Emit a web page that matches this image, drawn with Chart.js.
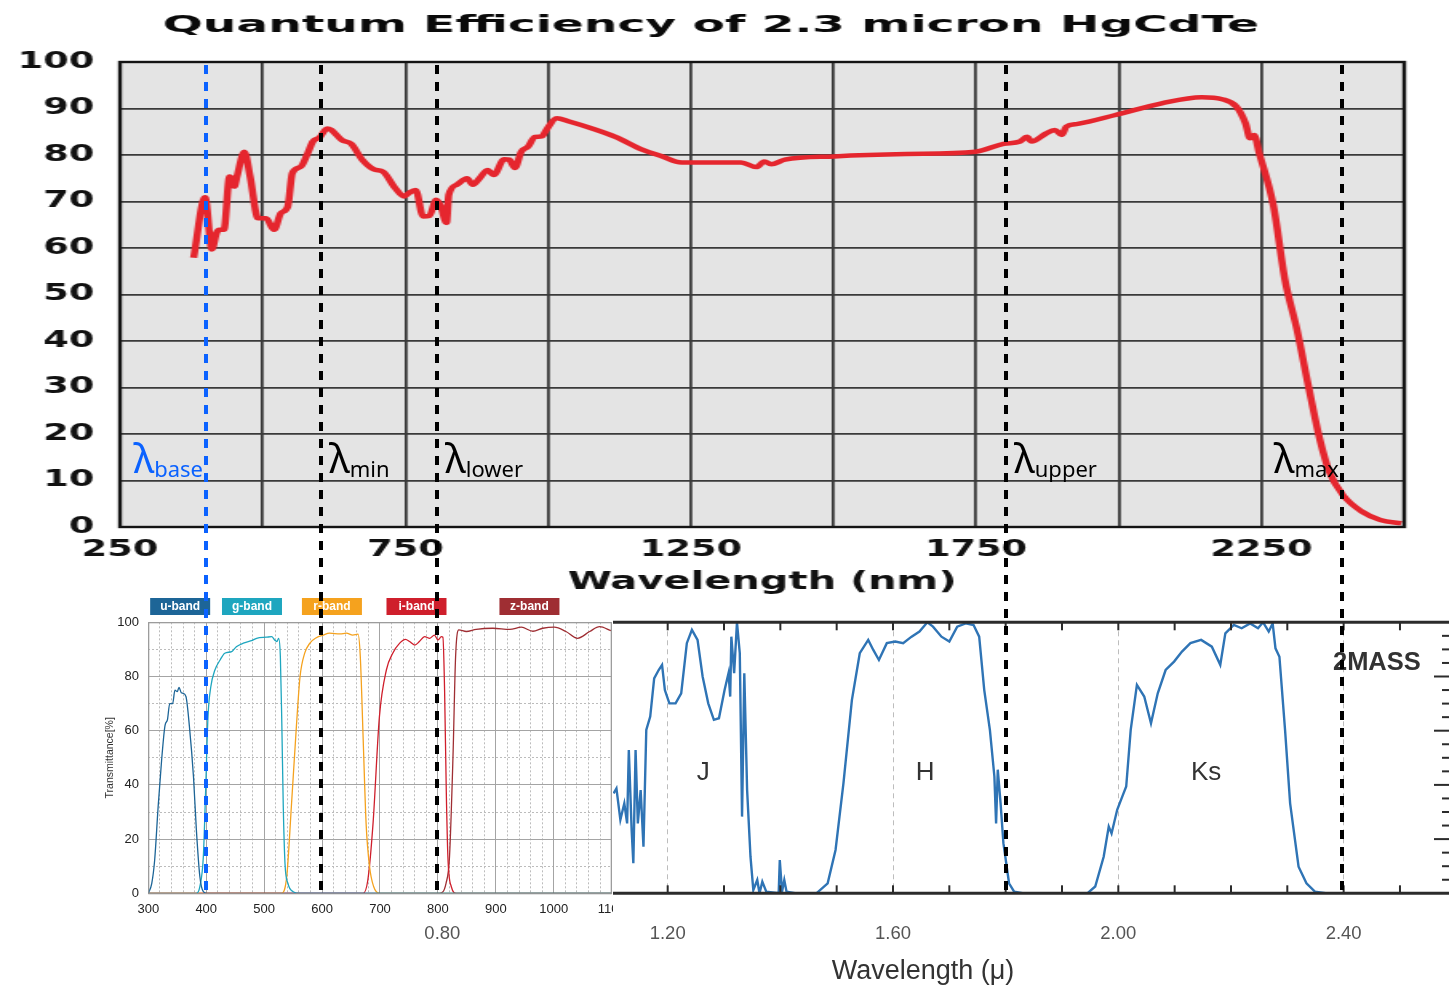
<!DOCTYPE html>
<html>
<head>
<meta charset="utf-8">
<script src="https://cdn.jsdelivr.net/npm/chart.js"></script>
<style>
  html, body { margin: 0; padding: 0; background: #fff; }
  #page { position: relative; width: 1449px; height: 988px; overflow: hidden; }
  #page canvas { position: absolute; }
  #qe { left: 0; top: 0; z-index: 3; }
  #sdss { left: 95px; top: 592px; z-index: 2; background: #fff; }
  #tmass { left: 380px; top: 600px; z-index: 1; }
  #marks { left: 0; top: 0; z-index: 4; pointer-events: none; }
</style>
</head>
<body>
<div id="page">
  <canvas id="tmass" width="1080" height="388"></canvas>
  <canvas id="sdss" width="518" height="330"></canvas>
  <!-- drawn at 906px wide, shown at full width -->
  <canvas id="qe" width="906" height="600" style="width:1449px;height:600px"></canvas>
  <canvas id="marks" width="1449" height="988"></canvas>
</div>
<script>
  // ---- detector QE curve (nm, %) ----
  const QE_TITLE = 'Quantum Efficiency of 2.3 micron HgCdTe';
  const QE_NM = [379, 399, 411, 419, 424, 432, 442, 450, 455, 468,
                 478, 492, 506, 520, 532, 544, 552, 567, 579, 588,
                 600, 613, 620, 639, 655, 675, 695, 711, 732, 748,
                 756, 768, 781, 792, 804, 812, 822, 826, 840, 858,
                 868, 880, 894, 905, 923, 932, 942, 953, 965, 977,
                 989, 997, 1015, 1037, 1077, 1118, 1166, 1198, 1234, 1301,
                 1338, 1365, 1379, 1391, 1415, 1501, 1627, 1749, 1798, 1827,
                 1839, 1847, 1872, 1888, 1900, 1908, 1928, 1994, 2075, 2145,
                 2181, 2206, 2222, 2230, 2237, 2246, 2271, 2291, 2312, 2332,
                 2352, 2369, 2393, 2426, 2458, 2495];
  const QE_PCT = [57.9, 70.9, 59.7, 63.2, 63.9, 63.9, 75.4, 73.2, 75.4, 80.7,
                  75.4, 66.4, 66.4, 63.9, 67.5, 68.9, 76.1, 77.5, 80.4, 82.9,
                  83.8, 85.7, 85.4, 83.2, 82.4, 78.9, 76.9, 76.4, 72.9, 71.1,
                  71.8, 72.5, 66.8, 66.9, 70.4, 69.0, 65.4, 71.4, 73.6, 75.0,
                  73.6, 75.0, 76.8, 75.7, 79.1, 79.0, 77.2, 80.7, 81.8, 83.9,
                  84.0, 85.4, 87.9, 87.2, 85.7, 83.9, 81.1, 79.8, 78.4, 78.4,
                  78.4, 77.4, 78.6, 78.0, 79.0, 79.7, 80.2, 80.7, 82.4, 82.9,
                  83.9, 82.9, 84.6, 85.4, 84.3, 86.1, 86.7, 88.6, 91.1, 92.4,
                  92.0, 90.4, 86.8, 83.6, 84.3, 80.4, 69.0, 53.2, 42.5, 30.4,
                  18.9, 11.8, 6.8, 3.3, 1.5, 0.8];
  const QE_X_GRID = [250, 500, 750, 1000, 1250, 1500, 1750, 2000, 2250, 2500];
  const QE_X_LABELS = [250, 750, 1250, 1750, 2250];
  const QE_Y_TICKS = [0, 10, 20, 30, 40, 50, 60, 70, 80, 90, 100];

  // wavelength markers (nm)
  const MARKER_NM = [400, 602, 805, 1803, 2391];
  const MARKER_SUB = ['base', 'min', 'lower', 'upper', 'max'];

  // ---- ugriz filter transmission (nm, %) ----
  const BAND_NAMES = ['u-band', 'g-band', 'r-band', 'i-band', 'z-band'];
  const BAND_TAG_NM = [355, 479, 617, 763, 958];
  const U_NM = [300, 306, 311, 317, 323, 329, 333, 337, 342, 346, 350, 353, 357, 360, 365, 371, 378, 383, 389, 395, 401, 1100];
  const U_T  = [0, 3.7, 12.3, 32, 49.2, 62.1, 64, 70, 70, 75, 74.4, 76, 74, 73.8, 72.6, 61.5, 43, 23.4, 6.2, 0.6, 0, 0];
  const G_NM = [300, 383, 389, 395, 399, 403, 408, 415, 424, 432, 444, 452, 464, 478, 487, 504, 513, 518, 522, 525, 528, 530.5, 533, 536, 541, 550, 562, 1100];
  const G_T  = [0, 0, 2.5, 13.5, 38, 65, 76.3, 82.4, 86.1, 88.6, 89.2, 91, 92.3, 93.2, 94.1, 94.5, 94.7, 93.5, 92.9, 94.1, 87.3, 62.7, 32, 11, 3.7, 0.6, 0, 0];
  const R_NM = [300, 530, 539, 547, 556, 562, 570, 579, 590, 602, 613, 631, 642, 653, 662, 666, 671, 676, 682, 689, 699, 1100];
  const R_T  = [0, 0, 6.2, 32, 62.7, 80, 88.6, 92.3, 94.3, 95.3, 96, 95.7, 96, 95.3, 95.6, 87.3, 56.6, 25.8, 9.8, 2.5, 0, 0];
  const I_NM = [300, 671, 679, 688, 699, 711, 722, 734, 744, 751, 760, 768, 777, 786, 794, 800, 806, 808.6, 811.5, 814.4, 817.2, 823, 832, 1100];
  const I_T  = [0, 0, 4.9, 25.8, 65.2, 82.4, 88.6, 92.3, 93.7, 92.9, 91.6, 92.9, 94.7, 94.1, 95.3, 93.5, 94.7, 94.5, 75, 38, 13.5, 2.5, 0, 0];
  const Z_NM = [300, 803, 814, 820, 826, 830.5, 836, 849, 866, 895, 924, 944, 964, 981, 1001, 1021, 1041, 1062, 1079, 1099];
  const Z_T  = [0, 0, 3.7, 13.5, 50.4, 87.3, 97.2, 96.6, 97.4, 97.8, 97.4, 98.2, 96.7, 97.8, 98.2, 96.6, 94.1, 96.6, 98.4, 96.9];
  const SDSS_X_TICKS = [300, 400, 500, 600, 700, 800, 900, 1000, 1100];
  const SDSS_Y_TICKS = [0, 20, 40, 60, 80, 100];

  // ---- 2MASS J/H/Ks relative response (micron, 0-1) ----
  const TM_UM = [1.104, 1.109, 1.116, 1.123, 1.128, 1.131, 1.136, 1.139, 1.143, 1.147,
                 1.152, 1.157, 1.162, 1.169, 1.176, 1.184, 1.19, 1.195, 1.203, 1.214,
                 1.224, 1.234, 1.243, 1.253, 1.262, 1.272, 1.282, 1.291, 1.301, 1.308,
                 1.311, 1.313, 1.318, 1.323, 1.328, 1.332, 1.336, 1.341, 1.347, 1.352,
                 1.359, 1.363, 1.368, 1.375, 1.397, 1.399, 1.403, 1.407, 1.411, 1.426,
                 1.464, 1.484, 1.498, 1.512, 1.527, 1.541, 1.556, 1.565, 1.575, 1.589,
                 1.604, 1.618, 1.633, 1.647, 1.661, 1.671, 1.686, 1.700, 1.714, 1.729,
                 1.743, 1.753, 1.762, 1.772, 1.780, 1.783, 1.786, 1.791, 1.796, 1.806,
                 1.815, 1.830, 1.945, 1.959, 1.974, 1.983, 1.988, 1.998, 2.007, 2.014,
                 2.022, 2.033, 2.046, 2.058, 2.070, 2.084, 2.099, 2.113, 2.128, 2.147,
                 2.166, 2.181, 2.190, 2.205, 2.219, 2.234, 2.248, 2.257, 2.267, 2.274,
                 2.279, 2.286, 2.296, 2.305, 2.320, 2.334, 2.349, 2.368, 2.401];
  const TM_T = [0.369, 0.387, 0.271, 0.332, 0.258, 0.529, 0.234, 0.111, 0.529, 0.258,
                0.381, 0.172, 0.603, 0.652, 0.793, 0.824, 0.843, 0.750, 0.701, 0.701,
                0.738, 0.923, 0.972, 0.935, 0.800, 0.701, 0.640, 0.646, 0.750, 0.812,
                0.726, 0.947, 0.812, 1.0, 0.886, 0.283, 0.812, 0.381, 0.135, 0.012,
                0.049, 0, 0.043, 0.006, 0, 0.123, 0.006, 0.049, 0.006, 0,
                0, 0.037, 0.16, 0.406, 0.713, 0.886, 0.935, 0.898, 0.861, 0.923,
                0.929, 0.923, 0.947, 0.966, 1.0, 0.984, 0.947, 0.929, 0.984, 0.996,
                0.99, 0.947, 0.75, 0.603, 0.431, 0.258, 0.456, 0.332, 0.185, 0.037,
                0.006, 0, 0, 0.025, 0.135, 0.246, 0.221, 0.308, 0.357, 0.394,
                0.603, 0.769, 0.726, 0.627, 0.738, 0.824, 0.855, 0.892, 0.923, 0.935,
                0.910, 0.843, 0.959, 0.99, 0.978, 0.996, 0.978, 1.0, 0.966, 0.996,
                0.904, 0.873, 0.603, 0.332, 0.098, 0.037, 0.006, 0, 0];
  const TM_X_TICKS = [0.8, 1.2, 1.6, 2.0, 2.4];
  const TM_LABELS = ['J', 'H', 'Ks'];
  const TM_LABEL_UM = [1.263, 1.657, 2.156];

  // ---- styling ----
  const STRETCH = 1449 / 906;          // the QE canvas is drawn narrow and widened by CSS
  const HEAVY = '"DejaVu Sans", sans-serif';
  const SANS = '"Liberation Sans", Arial, Helvetica, sans-serif';
  const GREEK = '"Noto Sans", "Open Sans", sans-serif';
  const BAND_COLORS = ['#1d6597', '#1ea6bf', '#f5a21e', '#cf1f2c', '#9f2e33'];
  const MARKER_COLORS = ['#0b62ff', '#000', '#000', '#000', '#000'];
  const MARKER_SIDE = ['left', 'right', 'right', 'right', 'left'];
  const DASH_BOTTOM = 893;

  const pts = (xs, ys) => xs.map((x, i) => ({x: x, y: ys[i]}));
  const noOverflow = s => { s.paddingLeft = s.paddingRight = s.paddingTop = s.paddingBottom = 0; };
  const fixedTicks = list => s => { s.ticks = list.map(v => ({value: v})); };

  function line(ctx, x1, y1, x2, y2) {
    ctx.beginPath(); ctx.moveTo(x1, y1); ctx.lineTo(x2, y2); ctx.stroke();
  }

  // ===== 2MASS panel (bottom layer) =====
  const tmassDecor = {
    id: 'tmassDecor',
    afterDraw(chart) {
      const {ctx, chartArea: a, scales: {x, y}} = chart;
      ctx.save();
      ctx.strokeStyle = '#2b2b2b';
      ctx.lineWidth = 3;
      line(ctx, a.left, a.top, a.right, a.top);
      line(ctx, a.left, a.bottom, a.right, a.bottom);
      // inward minor ticks every 0.1 micron
      ctx.lineWidth = 2;
      for (let i = 8; i <= 25; i++) {
        const px = x.getPixelForValue(i / 10);
        line(ctx, px, a.bottom, px, a.bottom - 8);
        line(ctx, px, a.top, px, a.top + 8);
      }
      // right-hand axis ticks
      for (let i = 1; i < 20; i++) {
        const py = y.getPixelForValue(i * 0.05);
        line(ctx, a.right, py, a.right - (i % 4 === 0 ? 17 : 9), py);
      }
      ctx.fillStyle = '#333';
      ctx.textAlign = 'center';
      ctx.textBaseline = 'middle';
      ctx.font = '26px ' + SANS;
      TM_LABELS.forEach((t, i) => {
        ctx.fillText(t, x.getPixelForValue(TM_LABEL_UM[i]), y.getPixelForValue(0.444));
      });
      ctx.font = 'bold 25.5px ' + SANS;
      ctx.fillText('2MASS', x.getPixelForValue(2.459), y.getPixelForValue(0.85));
      ctx.restore();
    }
  };

  new Chart(document.getElementById('tmass'), {
    type: 'line',
    data: {
      datasets: [{
        data: pts(TM_UM, TM_T),
        borderColor: '#2f74b5',
        borderWidth: 2.4,
        pointRadius: 0,
        tension: 0
      }]
    },
    options: {
      responsive: false,
      animation: false,
      devicePixelRatio: 1,
      layout: {padding: {left: 15, right: 9, top: 22.3, bottom: 0}},
      plugins: {legend: {display: false}, tooltip: {enabled: false}},
      scales: {
        x: {
          type: 'linear', min: 0.7159, max: 2.5906,
          afterBuildTicks: fixedTicks(TM_X_TICKS),
          afterFit: s => { s.height = 94.7; noOverflow(s); },
          grid: {color: '#bdbdbd', lineWidth: 1, drawTicks: false},
          border: {display: false, dash: [5, 4]},
          ticks: {
            font: {family: SANS, size: 18.5}, color: '#555', padding: 30,
            autoSkip: false, maxRotation: 0,
            callback: v => v.toFixed(2)
          },
          title: {
            display: true, text: 'Wavelength (μ)', color: '#333',
            font: {family: SANS, size: 27}, padding: {top: 0, bottom: 0}
          }
        },
        y: {type: 'linear', min: 0, max: 1, display: false}
      }
    },
    plugins: [tmassDecor]
  });

  // ===== ugriz panel =====
  const sdssDecor = {
    id: 'sdssDecor',
    afterDraw(chart) {
      const {ctx, chartArea: a, scales: {x}} = chart;
      ctx.save();
      ctx.strokeStyle = '#9a9a9a';
      ctx.lineWidth = 1;
      ctx.strokeRect(a.left + 0.5, a.top + 0.5, a.right - a.left - 1, a.bottom - a.top);
      ctx.font = 'bold 12px ' + SANS;
      ctx.textAlign = 'center';
      ctx.textBaseline = 'middle';
      BAND_NAMES.forEach((name, i) => {
        const cx = x.getPixelForValue(BAND_TAG_NM[i]);
        ctx.fillStyle = BAND_COLORS[i];
        ctx.fillRect(cx - 30, 6, 60, 17);
        ctx.fillStyle = '#fff';
        ctx.fillText(name, cx, 15);
      });
      ctx.restore();
    }
  };

  const minorX = [], minorY = [];
  for (let v = 320; v < 1100; v += 20) if (v % 100) minorX.push(v);
  for (let v = 10; v < 100; v += 20) minorY.push(v);

  const bandData = [[U_NM, U_T], [G_NM, G_T], [R_NM, R_T], [I_NM, I_T], [Z_NM, Z_T]];

  new Chart(document.getElementById('sdss'), {
    type: 'line',
    data: {
      datasets: bandData.map((b, i) => ({
        label: BAND_NAMES[i],
        data: pts(b[0], b[1]),
        borderColor: BAND_COLORS[i],
        borderWidth: 1.3,
        pointRadius: 0,
        cubicInterpolationMode: 'monotone'
      }))
    },
    options: {
      responsive: false,
      animation: false,
      devicePixelRatio: 1,
      layout: {padding: {left: 0, right: 1.3, top: 30.3, bottom: 0}},
      plugins: {legend: {display: false}, tooltip: {enabled: false}},
      scales: {
        xm: {
          type: 'linear', position: 'bottom', min: 300, max: 1100,
          afterBuildTicks: fixedTicks(minorX),
          afterFit: s => { s.height = 0; noOverflow(s); },
          grid: {color: '#bcbcbc', lineWidth: 1, drawTicks: false},
          border: {display: false, dash: [2, 2]},
          ticks: {display: false}
        },
        ym: {
          type: 'linear', position: 'left', min: 0, max: 100,
          afterBuildTicks: fixedTicks(minorY),
          afterFit: s => { s.width = 0; noOverflow(s); },
          grid: {color: '#bcbcbc', lineWidth: 1, drawTicks: false},
          border: {display: false, dash: [2, 2]},
          ticks: {display: false}
        },
        x: {
          type: 'linear', position: 'bottom', min: 300, max: 1100,
          afterBuildTicks: fixedTicks(SDSS_X_TICKS),
          afterFit: s => { s.height = 28.7; noOverflow(s); },
          grid: {color: '#a4a4a4', lineWidth: 1, drawTicks: false},
          border: {display: false},
          ticks: {
            font: {family: SANS, size: 13}, color: '#222', padding: 8.5,
            autoSkip: false, maxRotation: 0, callback: v => String(v)
          }
        },
        y: {
          type: 'linear', position: 'left', min: 0, max: 100,
          afterBuildTicks: fixedTicks(SDSS_Y_TICKS),
          afterFit: s => { s.width = 53.3; noOverflow(s); },
          grid: {color: '#a4a4a4', lineWidth: 1, drawTicks: false},
          border: {display: false},
          ticks: {font: {family: SANS, size: 13}, color: '#222', padding: 9.3},
          title: {
            display: true, text: 'Transmittance[%]', color: '#333',
            font: {family: SANS, size: 10.5}, padding: {top: 8.7, bottom: 0}
          }
        }
      }
    },
    plugins: [sdssDecor]
  });

  // ===== QE panel + wavelength markers across all panels =====
  function drawLambda(ctx, px, side, sub, color) {
    const big = '40px ' + GREEK, small = '22px ' + GREEK;
    ctx.font = big;
    const wl = ctx.measureText('λ').width;
    ctx.font = small;
    const ws = ctx.measureText(sub).width;
    const x0 = side === 'left' ? px - 3 - wl - ws : px + 8;
    ctx.fillStyle = color;
    ctx.textAlign = 'left';
    ctx.textBaseline = 'alphabetic';
    ctx.font = big;
    ctx.fillText('λ', x0, 473);
    ctx.font = small;
    ctx.fillText(sub, x0 + wl, 477);
  }

  function drawMarkers(chart) {
    const cv = document.getElementById('marks');
    const ctx = cv.getContext('2d');
    ctx.clearRect(0, 0, cv.width, cv.height);
    MARKER_NM.forEach((nm, i) => {
      const px = Math.round(chart.scales.x.getPixelForValue(nm) * STRETCH);
      ctx.save();
      ctx.strokeStyle = MARKER_COLORS[i];
      ctx.lineWidth = 4;
      ctx.setLineDash([9, 8]);
      line(ctx, px, chart.chartArea.top + 3, px, DASH_BOTTOM);
      ctx.setLineDash([]);
      drawLambda(ctx, px, MARKER_SIDE[i], MARKER_SUB[i], MARKER_COLORS[i]);
      ctx.restore();
    });
  }

  const qeDecor = {
    id: 'qeDecor',
    beforeDraw(chart) {
      const {ctx, chartArea: a} = chart;
      ctx.save();
      ctx.fillStyle = '#e4e4e4';
      ctx.fillRect(a.left, a.top, a.right - a.left, a.bottom - a.top);
      ctx.restore();
    },
    afterDraw(chart) {
      const {ctx, chartArea: a} = chart;
      ctx.save();
      ctx.strokeStyle = '#141414';
      ctx.lineWidth = 2.4;
      ctx.strokeRect(a.left, a.top, a.right - a.left, a.bottom - a.top);
      // heading: extra-wide bold face
      ctx.fillStyle = '#0a0a0a';
      ctx.font = 'bold 23px ' + HEAVY;
      ctx.textAlign = 'center';
      ctx.textBaseline = 'middle';
      ctx.translate(711 / STRETCH, 26);
      ctx.scale(1.28, 1);
      ctx.fillText(QE_TITLE, 0, 0);
      ctx.restore();
      drawMarkers(chart);
    }
  };

  new Chart(document.getElementById('qe'), {
    type: 'line',
    data: {
      datasets: [{
        label: 'QE',
        data: pts(QE_NM, QE_PCT),
        borderColor: '#e5262e',
        borderWidth: 4.5,
        pointRadius: 0,
        cubicInterpolationMode: 'monotone'
      }]
    },
    options: {
      responsive: false,
      animation: false,
      devicePixelRatio: 1,
      layout: {padding: {left: 0, right: 28, top: 62, bottom: 0}},
      plugins: {legend: {display: false}, tooltip: {enabled: false}},
      scales: {
        x: {
          type: 'linear', min: 250, max: 2500,
          afterBuildTicks: fixedTicks(QE_X_GRID),
          afterFit: s => { s.height = 73; noOverflow(s); },
          grid: {color: '#3a3a3a', lineWidth: 1.8, drawTicks: false},
          border: {display: false},
          ticks: {
            font: {family: HEAVY, weight: 'bold', size: 23}, color: '#111', padding: 9,
            autoSkip: false, maxRotation: 0,
            callback: v => QE_X_LABELS.includes(v) ? String(v) : ''
          },
          title: {
            display: true, text: 'Wavelength (nm)', color: '#111',
            font: {family: HEAVY, weight: 'bold', size: 25}, padding: {top: 0, bottom: 3}
          }
        },
        y: {
          type: 'linear', min: 0, max: 100,
          afterBuildTicks: fixedTicks(QE_Y_TICKS),
          afterFit: s => { s.width = 75; noOverflow(s); },
          grid: {color: '#3a3a3a', lineWidth: 1.8, drawTicks: false},
          border: {display: false},
          ticks: {font: {family: HEAVY, weight: 'bold', size: 23}, color: '#111', padding: 16}
        }
      }
    },
    plugins: [qeDecor]
  });
</script>
</body>
</html>
